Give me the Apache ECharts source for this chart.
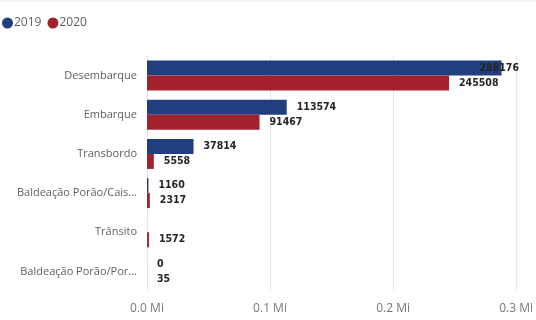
<!DOCTYPE html>
<html><head><meta charset="utf-8">
<script src="https://cdn.jsdelivr.net/npm/echarts@6/dist/echarts.min.js"></script>
<style>html,body{margin:0;padding:0;background:#fff}#c{width:536px;height:320px}</style>
</head><body><div id="c"></div>
<script>
const categories = ['Desembarque','Embarque','Transbordo','Baldeação Porão/Cais...','Trânsito','Baldeação Porão/Por...'];
const values2019 = [288176, 113574, 37814, 1160, null, 0];
const values2020 = [245508, 91467, 5558, 2317, 1572, 35];
const xTicks = [0, 100000, 200000, 300000];
const seriesNames = ['2019','2020'];

const labelFont = {fontFamily:'DejaVu Sans Condensed', fontSize:10.5, fontWeight:'bold', color:'#252423'};
function mkData(arr){
  return arr.map(v => {
    if (v === null) return '-';
    if (v > 0.9*xTicks[xTicks.length-1]) {
      return {value:v, label:{offset:[-32,0]}};
    }
    return v;
  });
}
const chart = echarts.init(document.getElementById('c'));
chart.setOption({
  animation:false,
  graphic:[{type:'rect', left:0, top:0, shape:{width:536, height:2}, style:{fill:'#F3F3F3'}, silent:true}],
  legend:{left:-3, top:12, itemWidth:11, itemHeight:11, itemGap:6, icon:'circle',
    textStyle:{fontFamily:'Open Sans', fontSize:12, color:'#605E5C', padding:[0,0,0,-4]},
    data:seriesNames},
  grid:{left:147, right:16, top:56, bottom:29, containLabel:false},
  xAxis:{type:'value', min:0, max:300000, interval:100000,
    axisLine:{show:false}, axisTick:{show:false},
    splitLine:{lineStyle:{color:'#E6E6E6'}},
    axisLabel:{fontFamily:'Open Sans', fontSize:12, color:'#777777', margin:12,
      formatter:v => (v/1000000).toFixed(1)+' Mi'}},
  yAxis:{type:'category', data:categories, inverse:true,
    axisLine:{show:false}, axisTick:{show:false},
    axisLabel:{fontFamily:'Open Sans', fontSize:11, color:'#605E5C', margin:10}},
  series:[
    {name:seriesNames[0], type:'bar', data:mkData(values2019), barWidth:15, barGap:'0%',
      itemStyle:{color:'#213F7F'},
      label:{show:true, position:'right', distance:10, ...labelFont}},
    {name:seriesNames[1], type:'bar', data:mkData(values2020), barWidth:15, barGap:'0%',
      itemStyle:{color:'#A3212F'},
      label:{show:true, position:'right', distance:10, ...labelFont}}
  ]
});
</script></body></html>
